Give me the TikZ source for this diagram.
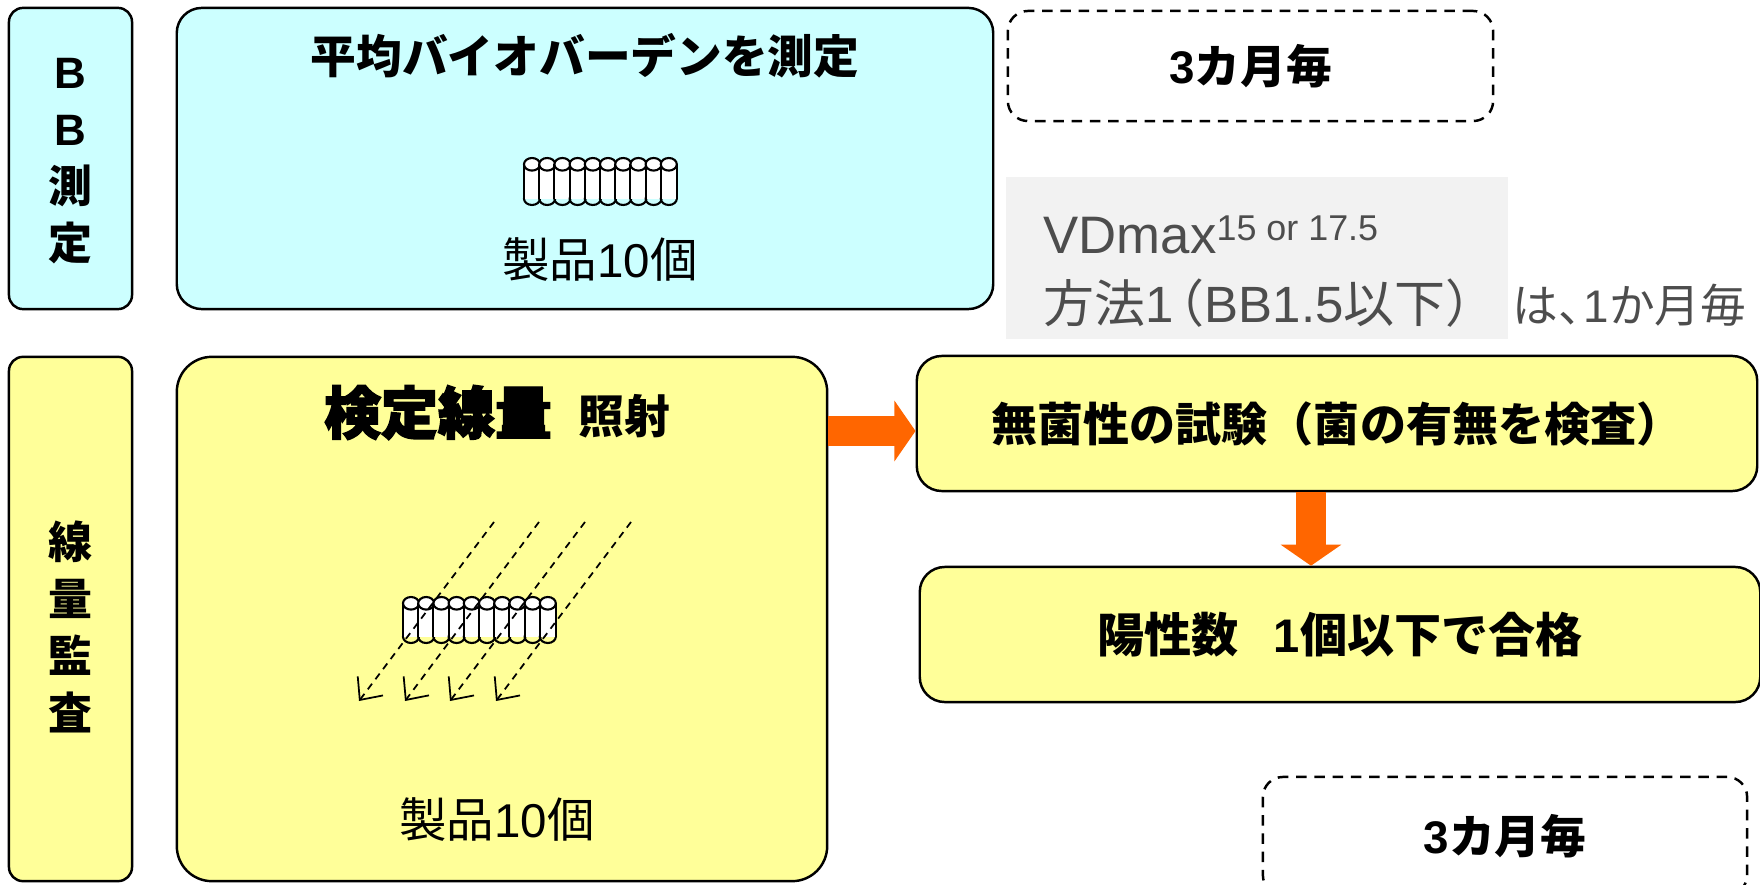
\documentclass[tikz,border=0pt]{standalone}
\usepackage{fontspec}
\setmainfont{Liberation Sans}
\newfontfamily\jpfont{Noto Sans CJK JP}
\newfontfamily\jpheavy{Noto Sans CJK JP}[BoldFeatures={FakeBold=2.6}]
\usetikzlibrary{arrows.meta}
\newcommand\jp[1]{{\jpfont #1}}
\newcommand\fs[2]{\fontsize{#1}{#2}\selectfont}

\definecolor{bbCyan}{HTML}{CCFFFF}
\definecolor{auditYellow}{HTML}{FFFF99}
\definecolor{flowOrange}{HTML}{FF6600}
\definecolor{noteGray}{HTML}{F2F2F2}
\definecolor{noteText}{HTML}{4D4D4D}

% one row of ten sample tubes: #1 left edge, #2 top, #3 bottom
\newcommand\tuberow[3]{%
  \foreach \i [evaluate=\i as \cx using #1+8+\i*15.2] in {0,...,9}{%
    \draw[tube] (\cx,#3-6.3) ellipse [x radius=8, y radius=6.3];
    \fill[white] (\cx-8,#2+6.3) rectangle (\cx+8,#3-6.3);
    \draw[tube] (\cx-8,#2+6.3) -- (\cx-8,#3-6.3) (\cx+8,#2+6.3) -- (\cx+8,#3-6.3);
    \draw[tube,fill=white] (\cx,#2+6.3) ellipse [x radius=8, y radius=6.3];
  }}

\begin{document}
\begin{tikzpicture}[x=0.01cm,y=-0.01cm,
  panel/.style={draw=black, line width=0.7pt, inner sep=0pt, anchor=center},
  dashbox/.style={draw=black, line width=0.7pt, dash pattern=on 3pt off 2.2pt,
    rounded corners=0.2cm, inner sep=0pt, anchor=center,
    font=\bfseries\fs{13}{15}},
  tube/.style={draw=black, line width=0.6pt},
  ray/.style={draw=black, line width=0.5pt, dash pattern=on 2pt off 1.6pt,
    -{Straight Barb[length=5pt,width=9pt]}},
  flow/.style={draw=flowOrange, line width=8.5pt,
    -{Triangle[length=6pt,width=17pt]}},
  vlabel/.style={align=center, font=\bfseries},
  plain/.style={font=\fs{13.5}{16}}
]
\clip (0,0) rectangle (1760,885);

% ---- bioburden row ----
\node[panel, fill=bbCyan, rounded corners=0.14cm,
      minimum width=1.23cm, minimum height=3.01cm] (bbL) at (70.5,158.5) {};
\node[panel, fill=bbCyan, rounded corners=0.25cm,
      minimum width=8.16cm, minimum height=3.01cm] (bbM) at (585,158.5) {};
\node[vlabel, font=\bfseries\fs{12.5}{16.2}] (bbLt) at (70.5,161)
  {B\\B\\\jp{測}\\\jp{定}};
\node[font=\bfseries\fs{13}{15}] (bbTitle) at (585,56)
  {\jp{平均バイオバーデンを測定}};
\tuberow{524}{158}{205}
\node[plain] (bbCount) at (600,260) {\jp{製品}10\jp{個}};

\node[dashbox, minimum width=4.85cm, minimum height=1.10cm] (every1) at (1250.5,66)
  {3\jp{カ月毎}};

% note on monthly frequency
\node[fill=noteGray, inner sep=0pt, minimum width=5.02cm, minimum height=1.62cm]
  (note) at (1257,258) {};
\node[anchor=base west, text=noteText, inner sep=0pt, font=\fs{15}{17}] (vd) at (1043,254)
  {VDmax\raisebox{3.9pt}{\fs{10.2}{11}15 or 17.5}};
\node[anchor=base west, text=noteText, inner sep=0pt, font=\fs{14.5}{17}] (m1) at (1043,322)
  {\jp{方法}1\kern-0.4em\jp{（}BB1.5\jp{以下）}};
\node[anchor=base west, text=noteText, inner sep=0pt, font=\fs{13}{15}] (m1b) at (1512,322)
  {\jp{は、}\kern-0.45em 1\jp{か月毎}};

% ---- dose audit row ----
\node[panel, fill=auditYellow, rounded corners=0.14cm,
      minimum width=1.23cm, minimum height=5.24cm] (daL) at (70.5,619) {};
\node[panel, fill=auditYellow, rounded corners=0.35cm,
      minimum width=6.50cm, minimum height=5.24cm] (daM) at (502,619) {};
\node[vlabel, font=\bfseries\fs{12.5}{16.2}] (daLt) at (70,627)
  {\jp{線}\\\jp{量}\\\jp{監}\\\jp{査}};
\node[anchor=base, font=\jpheavy\bfseries\fs{16.2}{18}] (vdTitle) at (438,434) {検定線量};
\node[anchor=base, font=\bfseries\fs{13}{15}] (irr) at (624,433) {\jp{照射}};

\tuberow{403}{597}{643}
\coordinate (r1s) at (494,522); \coordinate (r1e) at (359,701);
\coordinate (r2s) at (539,522); \coordinate (r2e) at (405,701);
\coordinate (r3s) at (585,522); \coordinate (r3e) at (450,701);
\coordinate (r4s) at (631,522); \coordinate (r4e) at (496,701);
\draw[ray] (r1s) -- (r1e);
\draw[ray] (r2s) -- (r2e);
\draw[ray] (r3s) -- (r3e);
\draw[ray] (r4s) -- (r4e);
\node[plain] (daCount) at (497,820) {\jp{製品}10\jp{個}};

\node[panel, fill=auditYellow, rounded corners=0.25cm,
      minimum width=8.40cm, minimum height=1.35cm, font=\bfseries\fs{13.1}{15}]
  (ster) at (1337,423.5) {\jp{無菌性の試験（菌の有無を検査）}};
\node[panel, fill=auditYellow, rounded corners=0.25cm,
      minimum width=8.40cm, minimum height=1.35cm, font=\bfseries\fs{13.4}{15}]
  (pos) at (1340,634.5) {\jp{陽性数}\hspace{0.75em}1\jp{個以下で合格}};

\node[dashbox, minimum width=4.84cm, minimum height=1.18cm] (every2) at (1505,836)
  {3\jp{カ月毎}};

% ---- flow arrows ----
\coordinate (rowA) at (0,431);
\coordinate (colD) at (1311,0);
\draw[flow] (daM.east |- rowA) -- (ster.west |- rowA);
\draw[flow] (ster.south -| colD) -- (pos.north -| colD);
\end{tikzpicture}
\end{document}
